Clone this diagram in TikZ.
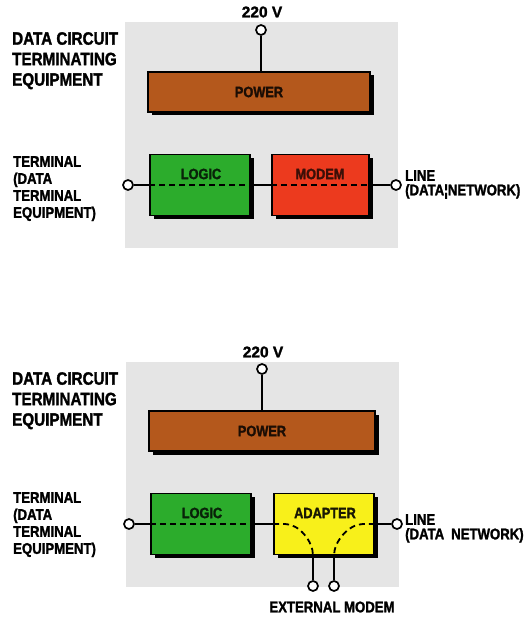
\documentclass[tikz,border=0pt]{standalone}
\usepackage{fontspec}
\setmainfont{Liberation Sans}[FakeStretch=0.85, FakeBold=1.6]
\newfontfamily\plainsans{Liberation Sans}[FakeBold=1.6]
\usetikzlibrary{shadows}

\definecolor{panelgrey}{RGB}{229,229,229}
\definecolor{powerbrown}{RGB}{180,88,28}
\definecolor{logicgreen}{RGB}{44,172,44}
\definecolor{modemred}{RGB}{236,58,30}
\definecolor{adapteryellow}{RGB}{248,240,26}

\tikzset{
  panel/.style={fill=panelgrey, draw=none},
  unit/.style={draw=black, line width=1.8pt, inner sep=0pt,
    drop shadow={shadow xshift=3.5pt, shadow yshift=-3.5pt, fill=black, opacity=1}},
  unitlabel/.style={font=\bfseries\fontsize{15}{16}\selectfont, inner sep=0pt},
  port/.style={circle, draw=black, line width=1.7pt, fill=white, inner sep=0pt, minimum size=10pt},
  wire/.style={line width=1.7pt},
  signal/.style={line width=1.8pt, dash pattern=on 6pt off 4pt},
  titletext/.style={font=\bfseries\fontsize{17.9}{20.5}\selectfont, align=left, anchor=north west, inner sep=0pt},
  sidetext/.style={font=\bfseries\fontsize{15.5}{17}\selectfont, align=left, anchor=north west, inner sep=0pt},
  linetext/.style={font=\bfseries\fontsize{15.5}{14.5}\selectfont, align=left, anchor=north west, inner sep=0pt},
  volttext/.style={font=\plainsans\bfseries\fontsize{15.5}{17}\selectfont, inner sep=0pt},
}

\begin{document}
\begin{tikzpicture}[x=1pt, y=-1pt]
\useasboundingbox (0,0) rectangle (529,617);

% ---------- upper panel: DCE with built-in modem ----------
\begin{scope}
  \fill[panel] (125,22) rectangle (398,248);
  \node[volttext] (a220) at (262,12) {220 V};
  \node[port] (avin) at (261,30) {};
  \node[unit, fill=powerbrown, minimum width=222pt, minimum height=40pt] (apower) at (259,92) {};
  \node[unitlabel, text=black!85!powerbrown] (apowerlbl) at (apower.center) {POWER};
  \node[unit, fill=logicgreen, minimum width=100pt, minimum height=61pt] (alogic) at (200,185) {};
  \node[unit, fill=modemred, minimum width=97pt, minimum height=61pt] (amodem) at (320.5,185) {};
  \node[unitlabel, text=black!80!logicgreen] (alogiclbl) at (201,174) {LOGIC};
  \node[unitlabel, text=black!75!modemred] (amodemlbl) at (320,174) {MODEM};
  \node[port] (aterm) at (128,185) {};
  \node[port] (aline) at (396,185) {};
  \draw[wire] (avin) -- (avin |- apower.north);
  \draw[wire] (aterm) -- (alogic.west);
  \draw[signal] (alogic.west) -- (alogic.east);
  \draw[wire] (alogic.east) -- (amodem.west);
  \draw[signal] (amodem.west) -- (amodem.east);
  \draw[wire] (amodem.east) -- (aline);
  \node[titletext] (atitle) at (12,32) {DATA CIRCUIT\\TERMINATING\\EQUIPMENT};
  \node[sidetext] (atermlbl) at (13,156) {TERMINAL\\(DATA\\TERMINAL\\EQUIPMENT)};
  \node[linetext] (alinelbl) at (405,170) {LINE\\(DATA¦NETWORK)};
\end{scope}

% ---------- lower panel: DCE with adapter for an external modem ----------
\begin{scope}[yshift=-339pt, xshift=1pt]
  \fill[panel] (125,23) rectangle (398,248);
  \node[volttext] (b220) at (262,13) {220 V};
  \node[port] (bvin) at (261,30) {};
  \node[unit, fill=powerbrown, minimum width=226pt, minimum height=40pt] (bpower) at (261,92) {};
  \node[unitlabel, text=black!85!powerbrown] (bpowerlbl) at (bpower.center) {POWER};
  \node[unit, fill=logicgreen, minimum width=100pt, minimum height=61pt] (blogic) at (200,185) {};
  \node[unit, fill=adapteryellow, minimum width=100pt, minimum height=61pt] (badapter) at (323,185) {};
  \node[unitlabel, text=black!80!logicgreen] (blogiclbl) at (201,174) {LOGIC};
  \node[unitlabel, text=black!90!adapteryellow] (badapterlbl) at (324,174) {ADAPTER};
  \node[port] (bterm) at (128,185) {};
  \node[port] (bline) at (396,185) {};
  \node[port] (bextA) at (312,247) {};
  \node[port] (bextB) at (333,247) {};
  \coordinate (bdropA) at (bextA |- badapter.south);
  \coordinate (bdropB) at (bextB |- badapter.south);
  \draw[wire] (bvin) -- (bvin |- bpower.north);
  \draw[wire] (bterm) -- (blogic.west);
  \draw[signal] (blogic.west) -- (blogic.east);
  \draw[wire] (blogic.east) -- (badapter.west);
  \draw[signal] (badapter.west) -- ++(12,0) .. controls +(14,0) and +(0,-14) .. (bdropA);
  \draw[signal] (badapter.east) -- ++(-12,0) .. controls +(-14,0) and +(0,-14) .. (bdropB);
  \draw[wire] (badapter.east) -- (bline);
  \draw[wire] (bdropA) -- (bextA);
  \draw[wire] (bdropB) -- (bextB);
  \node[titletext] (btitle) at (11,33) {DATA CIRCUIT\\TERMINATING\\EQUIPMENT};
  \node[sidetext] (btermlbl) at (12,153) {TERMINAL\\(DATA\\TERMINAL\\EQUIPMENT)};
  \node[linetext] (blinelbl) at (404,175) {LINE\\(DATA\hspace{7pt}NETWORK)};
  \node[sidetext, anchor=center] (bextlbl) at (331,268) {EXTERNAL MODEM};
\end{scope}
\end{tikzpicture}
\end{document}
